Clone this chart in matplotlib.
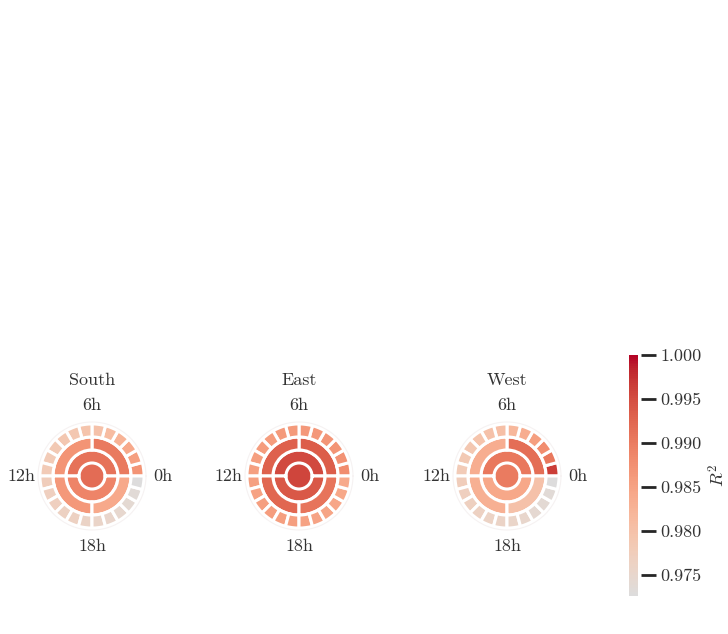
import numpy as np
import matplotlib
matplotlib.use("Agg")
import matplotlib.pyplot as plt
from matplotlib.colors import ListedColormap, Normalize
from matplotlib.ticker import FormatStrFormatter

plt.rcParams['font.family'] = ['cmr10', 'DejaVu Serif']
plt.rcParams['mathtext.fontset'] = 'cm'
plt.rcParams['axes.formatter.use_mathtext'] = True
plt.rcParams['font.size'] = 13

# R^2 per site: whole day, two halves, four quarters, 24 hours (0h at east, counter-clockwise)
sites = ['South', 'East', 'West']
day_r2 = [0.9918, 0.9958, 0.9900]
half_r2 = [[0.9912, 0.9890],
           [0.9955, 0.9940],
           [0.9905, 0.9842]]
quarter_r2 = [[0.9902, 0.9870, 0.9865, 0.9840],
              [0.9935, 0.9930, 0.9925, 0.9910],
              [0.9915, 0.9835, 0.9830, 0.9800]]
south_hours = [0.9870, 0.9855, 0.9840, 0.9825, 0.9810, 0.9800,
               0.9795, 0.9790, 0.9790, 0.9785, 0.9780, 0.9780,
               0.9775, 0.9770, 0.9770, 0.9765, 0.9765, 0.9760,
               0.9758, 0.9752, 0.9748, 0.9742, 0.9736, 0.9728]
east_hours = [0.9880, 0.9872, 0.9870, 0.9868, 0.9865, 0.9865,
              0.9862, 0.9862, 0.9860, 0.9857, 0.9855, 0.9855,
              0.9853, 0.9852, 0.9855, 0.9857, 0.9855, 0.9855,
              0.9852, 0.9850, 0.9848, 0.9845, 0.9842, 0.9838]
west_hours = [0.9965, 0.9905, 0.9880, 0.9855, 0.9835, 0.9820,
              0.9805, 0.9800, 0.9795, 0.9790, 0.9785, 0.9780,
              0.9775, 0.9770, 0.9768, 0.9765, 0.9762, 0.9760,
              0.9755, 0.9750, 0.9745, 0.9740, 0.9735, 0.9726]
hour_r2 = [south_hours, east_hours, west_hours]
hour_labels = ['0h', '6h', '12h', '18h']

W, H = 728, 634
fig = plt.figure(figsize=(W / 100, H / 100), dpi=100)

cmap = ListedColormap(plt.get_cmap('coolwarm')(np.linspace(0.5, 1.0, 256)))
all_vals = np.concatenate([day_r2, np.ravel(half_r2), np.ravel(quarter_r2), np.ravel(hour_r2)])
norm = Normalize(vmin=all_vals.min(), vmax=1.0)

centers_x = [92, 299, 507]
center_y = 476
R = 54
text_col = '0.2'

for i, name in enumerate(sites):
    cx = centers_x[i]
    ax = fig.add_axes([(cx - R) / W, (H - center_y - R) / H, 2 * R / W, 2 * R / H],
                      projection='polar')
    ax.set_theta_zero_location('E')
    ax.set_theta_direction(1)

    # centre disk without its own edge
    ax.bar(0, 1, width=2 * np.pi, bottom=0, align='edge',
           color=cmap(norm(day_r2[i])), edgecolor='none')
    rings = [half_r2[i], quarter_r2[i], hour_r2[i]]
    for level, vals in enumerate(rings, start=1):
        n = len(vals)
        theta = np.arange(n) * 2 * np.pi / n
        ax.bar(theta, 1, width=2 * np.pi / n, bottom=level, align='edge',
               color=cmap(norm(np.array(vals))), edgecolor='white', linewidth=2.2)

    ax.set_ylim(0, 4.15)
    ax.set_yticks([])
    ax.set_xticks(np.deg2rad([0, 90, 180, 270]))
    ax.set_xticklabels(hour_labels)
    ax.tick_params(axis='x', length=0, pad=5, labelcolor=text_col, labelsize=13)
    ax.grid(False)
    ax.spines['polar'].set_color('#f6f2f2')
    ax.spines['polar'].set_linewidth(0.8)
    ax.set_title(name, y=1.343, pad=0, color=text_col, fontsize=13)

cax = fig.add_axes([629 / W, (H - 596) / H, 12 / W, 241 / H])
sm = plt.cm.ScalarMappable(norm=norm, cmap=cmap)
cb = fig.colorbar(sm, cax=cax)
cb.outline.set_visible(False)
cb.set_ticks(np.arange(0.975, 1.0001, 0.005))
cb.ax.yaxis.set_major_formatter(FormatStrFormatter('%.3f'))
cb.ax.set_xlim(0, 12 / 9)
cb.ax.tick_params(length=11, width=2, color='0.15', pad=3, labelcolor=text_col, labelsize=13)
cb.set_label('$R^2$', labelpad=4, color=text_col, fontsize=13)

fig.savefig('out.png', dpi=100)
